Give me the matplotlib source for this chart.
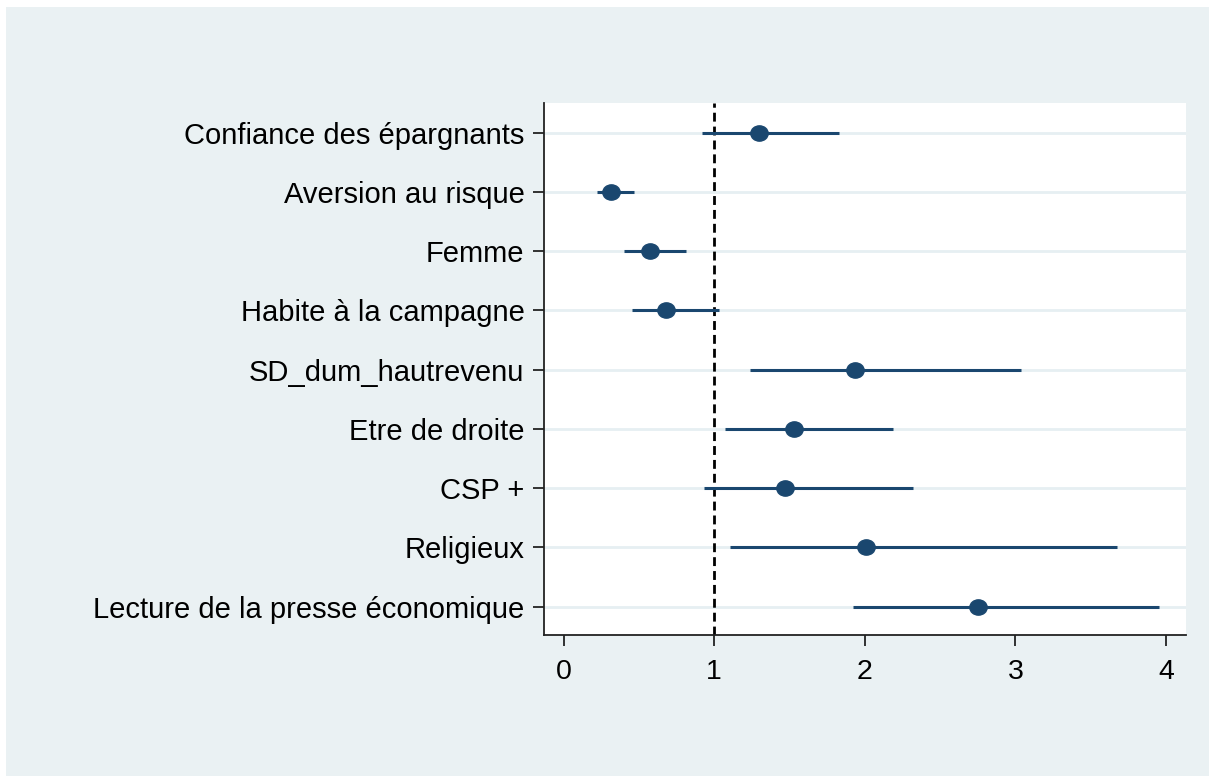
import matplotlib
matplotlib.use("Agg")
import matplotlib.pyplot as plt
from matplotlib.patches import Rectangle
from matplotlib.path import Path
from matplotlib.transforms import Affine2D

# Odds ratios with 95% confidence intervals
labels = [
    "Confiance des épargnants",
    "Aversion au risque",
    "Femme",
    "Habite à la campagne",
    "SD_dum_hautrevenu",
    "Etre de droite",
    "CSP +",
    "Religieux",
    "Lecture de la presse économique",
]
estimates = [1.294, 0.316, 0.573, 0.681, 1.937, 1.530, 1.470, 2.010, 2.754]
ci_low = [0.920, 0.221, 0.402, 0.453, 1.235, 1.069, 0.929, 1.102, 1.924]
ci_high = [1.831, 0.466, 0.814, 1.031, 3.038, 2.187, 2.320, 3.673, 3.952]
x_ticks = [0, 1, 2, 3, 4]
reference_value = 1

W, H = 1209, 776
plt.rcParams["font.family"] = ["Liberation Sans", "DejaVu Sans"]

fig = plt.figure(figsize=(W / 100, H / 100), dpi=100)
fig.patch.set_facecolor("white")
bg = "#eaf1f3"
fig.add_artist(Rectangle((6 / W, 0), 1 - 6 / W, 1 - 7 / H, transform=fig.transFigure,
                         facecolor=bg, edgecolor="none", zorder=0))

left, right, top, bottom = 544, 1185.7, 103.3, 635
ax = fig.add_axes([left / W, 1 - bottom / H, (right - left) / W, (bottom - top) / H])
ax.set_facecolor("white")

navy = "#1a476f"
ypos = list(range(len(labels)))

# slightly wide oval dot marker
oval = Path.unit_circle().transformed(Affine2D().scale(1.0, 0.88))

for y in ypos:
    ax.axhline(y, color="#e6eff2", lw=2.0, zorder=1)

ax.axvline(reference_value, color="black", lw=2.0, linestyle=(0, (3.2, 1.8)), zorder=2)

ax.hlines(ypos, ci_low, ci_high, color=navy, lw=2.2, zorder=3)
ax.plot(estimates, ypos, linestyle="none", marker=oval, color=navy,
        markersize=12.5, zorder=4)

ax.set_xlim(-0.130, 4.130)
ax.set_ylim(8.478, -0.497)
ax.set_yticks(ypos)
ax.set_yticklabels(labels, fontsize=21)
ax.set_xticks(x_ticks)
ax.set_xticklabels([str(t) for t in x_ticks], fontsize=20.5)

for s in ("top", "right"):
    ax.spines[s].set_visible(False)
for s in ("left", "bottom"):
    ax.spines[s].set_color("#222222")
    ax.spines[s].set_linewidth(1.3)
ax.tick_params(axis="y", length=8, width=1.3, color="#222222", pad=6)
ax.tick_params(axis="x", length=8, width=1.3, color="#222222", pad=9)

fig.savefig("out.png", dpi=100, facecolor=fig.get_facecolor())
